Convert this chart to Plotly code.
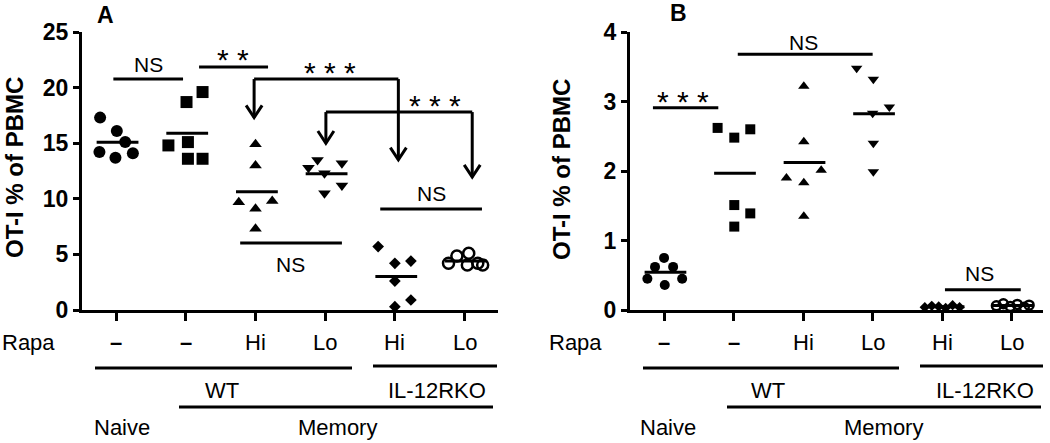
import plotly.graph_objects as go
import numpy as np

# ---------------- data ----------------
groups = ["Naive", "WT", "WT Hi", "WT Lo", "IL-12RKO Hi", "IL-12RKO Lo"]
rapa_labels = ["–", "–", "Hi", "Lo", "Hi", "Lo"]

a_naive = [17.3, 16.1, 15.1, 14.2, 13.7, 14.1]
a_wt = [19.6, 18.7, 14.8, 15.1, 13.6, 13.6]
a_wt_hi = [14.9, 13.0, 9.7, 9.8, 9.1, 7.3]
a_wt_lo = [13.5, 12.8, 12.3, 13.2, 11.2, 10.5]
a_ko_hi = [5.7, 4.2, 4.4, 2.6, 0.9, 0.3]
a_ko_lo = [4.2, 4.86, 5.1, 4.05, 4.2, 4.05]

b_naive = [0.75, 0.62, 0.62, 0.45, 0.36, 0.45]
b_wt = [2.62, 2.48, 2.60, 1.51, 1.39, 1.20]
b_wt_hi = [3.22, 2.42, 1.90, 1.83, 2.01, 1.35]
b_wt_lo = [3.48, 3.32, 2.92, 2.83, 2.40, 1.99]
b_ko_hi = [0.04, 0.06, 0.05, 0.03, 0.07, 0.04]
b_ko_lo = [0.06, 0.09, 0.05, 0.08, 0.04, 0.07]

a_yticks = [0, 5, 10, 15, 20, 25]
b_yticks = [0, 1, 2, 3, 4]

# horizontal jitter of the dots within each group
a_jit = [
    [-0.23, 0.01, 0.13, -0.24, -0.01, 0.24],
    [0.24, 0.01, -0.25, 0.03, 0.03, 0.24],
    [0.0, 0.0, -0.24, 0.24, 0.0, 0.0],
    [-0.11, -0.24, -0.01, 0.24, 0.24, -0.01],
    [-0.24, 0.0, 0.23, 0.0, 0.23, 0.0],
    [-0.23, -0.11, 0.06, 0.04, 0.19, 0.26],
]
b_jit = [
    [0.0, -0.13, 0.13, -0.24, 0.01, 0.26],
    [-0.23, 0.01, 0.24, 0.01, 0.24, 0.01],
    [0.01, 0.01, -0.24, 0.01, 0.26, 0.01],
    [-0.23, 0.01, 0.24, 0.0, 0.01, 0.01],
    [-0.25, -0.15, -0.05, 0.05, 0.15, 0.25],
    [-0.22, -0.12, -0.02, 0.08, 0.18, 0.25],
]

symbols = ["circle", "square", "triangle-up", "triangle-down", "diamond", "circle-open"]
a_sizes = [12, 12, 11, 11, 9, 11]
b_sizes = [10, 10, 10, 10, 8, 9]

FONT = "Arial, Liberation Sans, sans-serif"
BLACK = "#000000"

fig = go.Figure()

def add_panel(data, jit, sizes, xa, ya):
    for i, vals in enumerate(data):
        xs = [i + j for j in jit[i]]
        sym = symbols[i]
        openm = sym.endswith("open")
        fig.add_trace(go.Scatter(
            x=xs, y=vals, mode="markers", xaxis=xa, yaxis=ya,
            marker=dict(symbol=sym, size=sizes[i], color=BLACK,
                        line=dict(width=2.5 if openm else 0, color=BLACK)),
            cliponaxis=False, showlegend=False, hoverinfo="skip"))
        m = float(np.mean(vals))
        fig.add_trace(go.Scatter(
            x=[i - 0.28, i + 0.32], y=[m, m], mode="lines", xaxis=xa, yaxis=ya,
            line=dict(color=BLACK, width=3), cliponaxis=False,
            showlegend=False, hoverinfo="skip"))

a_data = [a_naive, a_wt, a_wt_hi, a_wt_lo, a_ko_hi, a_ko_lo]
b_data = [b_naive, b_wt, b_wt_hi, b_wt_lo, b_ko_hi, b_ko_lo]
add_panel(a_data, a_jit, a_sizes, "x", "y")
add_panel(b_data, b_jit, b_sizes, "x2", "y2")

shapes = []
annotations = []

def hline(xref, yref, x0, x1, y, w=3):
    shapes.append(dict(type="line", xref=xref, yref=yref, x0=x0, x1=x1, y0=y, y1=y,
                       line=dict(color=BLACK, width=w)))

def vline(xref, yref, x, y0, y1, w=3):
    shapes.append(dict(type="line", xref=xref, yref=yref, x0=x, x1=x, y0=y0, y1=y1,
                       line=dict(color=BLACK, width=w)))

def arrowhead(xref, yref, x, ytip, hw, hh, w=3):
    shapes.append(dict(type="path", xref=xref, yref=yref,
                       path=f"M{x-hw},{ytip+hh} L{x},{ytip} L{x+hw},{ytip+hh}",
                       line=dict(color=BLACK, width=w)))

def text(xref, yref, x, y, t, size=21, bold=False, angle=0):
    annotations.append(dict(xref=xref, yref=yref, x=x, y=y, text=t, showarrow=False,
                            textangle=angle, xanchor="center", yanchor="middle",
                            font=dict(family=FONT, size=size, color=BLACK,
                                      weight="bold" if bold else "normal")))

STAR = 30

# ---------- Panel A significance ----------
hline("x", "y", -0.04, 0.96, 20.77)
text("x", "y", 0.46, 22.1, "NS")
hline("x", "y", 1.19, 2.18, 21.85)
text("x", "y", 1.68, 22.5, "* *", size=STAR)
# bracket 1
hline("x", "y", 1.98, 4.05, 20.77)
vline("x", "y", 1.98, 20.77, 17.3)
vline("x", "y", 4.05, 20.77, 13.5)
arrowhead("x", "y", 1.98, 17.3, 0.115, 1.1)
arrowhead("x", "y", 4.05, 13.5, 0.115, 1.1)
text("x", "y", 3.07, 21.4, "* * *", size=STAR)
# bracket 2
hline("x", "y", 3.01, 5.11, 17.8)
vline("x", "y", 3.01, 17.8, 15.0)
vline("x", "y", 5.11, 17.8, 11.95)
arrowhead("x", "y", 3.01, 15.0, 0.115, 1.1)
arrowhead("x", "y", 5.11, 11.95, 0.115, 1.1)
text("x", "y", 4.58, 18.4, "* * *", size=STAR)
# NS below WT Hi/Lo
hline("x", "y", 1.78, 3.24, 6.03)
text("x", "y", 2.5, 4.1, "NS")
# NS over KO
hline("x", "y", 3.79, 5.25, 9.08)
text("x", "y", 4.52, 10.5, "NS")

# ---------- Panel B significance ----------
hline("x2", "y2", -0.16, 0.78, 2.91)
text("x2", "y2", 0.27, 3.0, "* * *", size=STAR)
hline("x2", "y2", 1.06, 3.0, 3.68)
text("x2", "y2", 2.0, 3.85, "NS")
hline("x2", "y2", 4.04, 5.13, 0.29)
text("x2", "y2", 4.53, 0.52, "NS")

# ---------- below-axis labels (paper coords) ----------
W, H = 1050, 443
TOP, BOT = 32, 310

def py(p):
    return (BOT - p) / (BOT - TOP)

def px(p):
    return p / W

def phline(x0, x1, y, w=3):
    shapes.append(dict(type="line", xref="paper", yref="paper", x0=px(x0), x1=px(x1),
                       y0=py(y), y1=py(y), line=dict(color=BLACK, width=w)))

A_X0, A_DX = 116, 69.7
B_X0, B_DX = 664, 69.6

for x0, dx, rapa_x in [(A_X0, A_DX, 28), (B_X0, B_DX, 575)]:
    text("paper", "paper", px(rapa_x), py(342), "Rapa", size=22)
    for i, lab in enumerate(rapa_labels):
        text("paper", "paper", px(x0 + i * dx), py(342), lab, size=22, bold=(lab == "–"))

# Panel A group lines
phline(95, 352, 368)
phline(373, 497, 366)
text("paper", "paper", px(222), py(390), "WT", size=22)
text("paper", "paper", px(437), py(390), "IL-12RKO", size=22)
phline(179, 493, 407)
text("paper", "paper", px(122), py(427), "Naive", size=22)
text("paper", "paper", px(337), py(427), "Memory", size=22)

# Panel B group lines
phline(643, 899, 368)
phline(920, 1043, 366)
text("paper", "paper", px(768), py(390), "WT", size=22)
text("paper", "paper", px(985), py(390), "IL-12RKO", size=22)
phline(727, 1041, 407)
text("paper", "paper", px(668), py(427), "Naive", size=22)
text("paper", "paper", px(883), py(427), "Memory", size=22)

# axis titles and panel letters
text("paper", "paper", px(14), py(168), "OT-I % of PBMC", size=24, bold=True, angle=-90)
text("paper", "paper", px(561), py(170), "OT-I % of PBMC", size=24, bold=True, angle=-90)
text("paper", "paper", px(105), py(15), "A", size=23, bold=True)
text("paper", "paper", px(679), py(13), "B", size=23, bold=True)

xcommon = dict(showline=True, linewidth=3, linecolor=BLACK, ticks="outside", ticklen=8,
               tickwidth=3, tickcolor=BLACK, tickvals=list(range(len(groups))),
               showticklabels=False, showgrid=False, zeroline=False)
ycommon = dict(showline=True, linewidth=3, linecolor=BLACK, ticks="outside", ticklen=6,
               tickwidth=3, tickcolor=BLACK, showgrid=False, zeroline=False,
               tickfont=dict(family=FONT, size=23, color=BLACK, weight="bold"))

fig.update_layout(
    width=W, height=H,
    margin=dict(l=0, r=0, t=TOP, b=H - BOT, pad=0),
    paper_bgcolor="white", plot_bgcolor="white",
    xaxis=dict(domain=[px(82), px(498)], range=[-0.49, 5.48], anchor="y", **xcommon),
    yaxis=dict(domain=[0, 1], range=[0, 25], anchor="x", tickvals=a_yticks, **ycommon),
    xaxis2=dict(domain=[px(630), px(1043)], range=[-0.49, 5.45], anchor="y2", **xcommon),
    yaxis2=dict(domain=[0, 1], range=[0, 4], anchor="x2", tickvals=b_yticks, **ycommon),
    shapes=shapes,
    annotations=annotations,
    showlegend=False,
)

fig.write_html("out.html", config={"displayModeBar": False},
               post_script="document.body.style.margin='0';document.body.style.overflow='hidden';")
